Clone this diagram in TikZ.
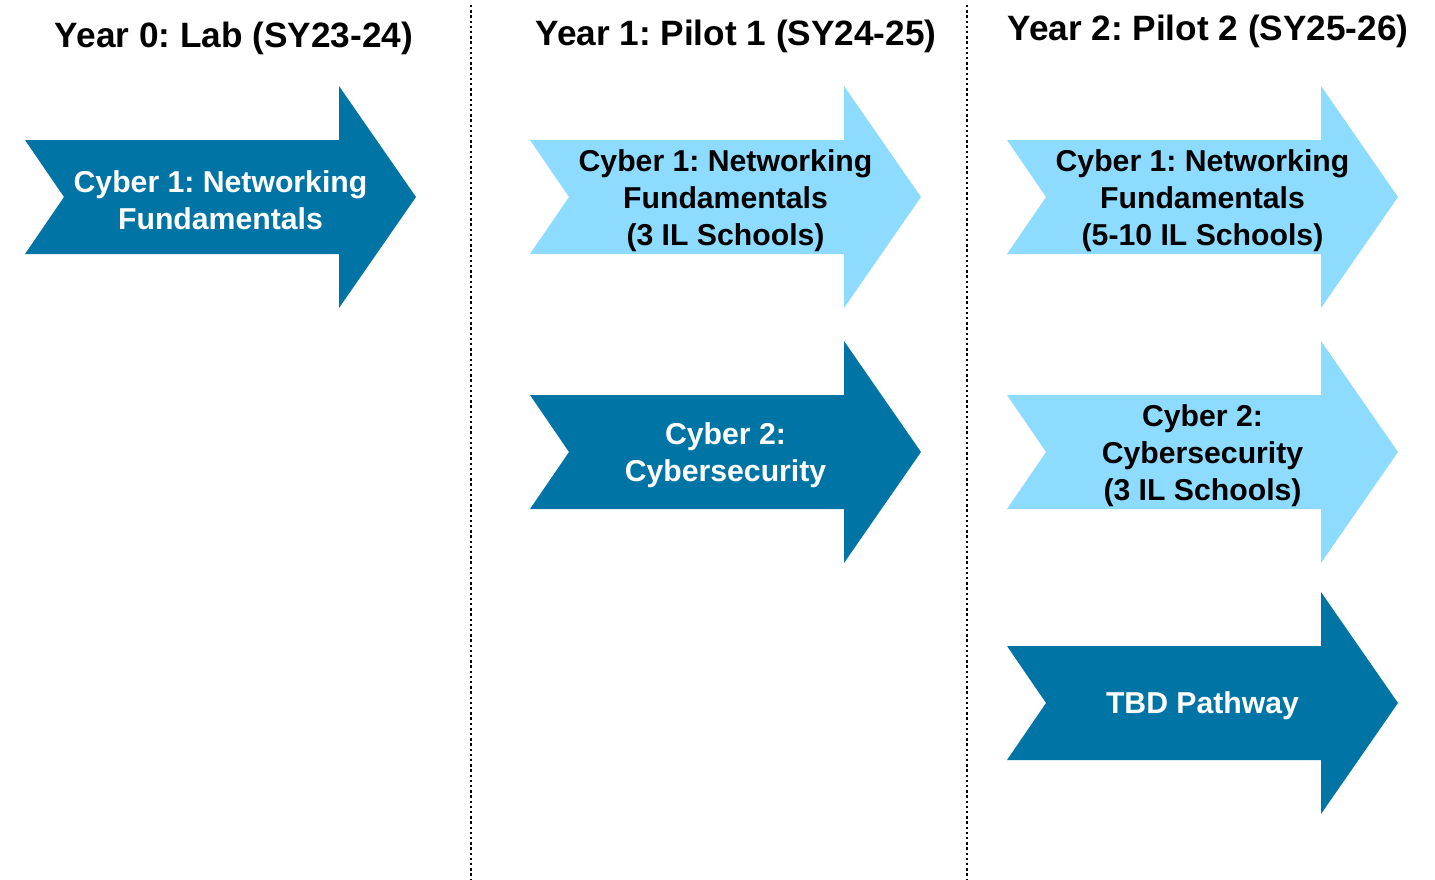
\documentclass[tikz,border=0pt]{standalone}
\usepackage{fontspec}
\setmainfont{Liberation Sans}
\frenchspacing
\definecolor{darkarr}{HTML}{0174A6}
\definecolor{lightarr}{HTML}{8DDCFF}
\newcommand\chevron[3]{% left x, center y, colour
  \fill[#3] (#1,#2-57) -- (#1+314,#2-57) -- (#1+314,#2-111) -- (#1+391,#2)
    -- (#1+314,#2+111) -- (#1+314,#2+57) -- (#1,#2+57) -- (#1+39,#2) -- cycle;}
\begin{document}
\begin{tikzpicture}[x=0.5pt,y=-0.5pt,
  header/.style={font=\fontsize{17.6}{21}\selectfont\bfseries, inner sep=0pt},
  arrtext/.style={font=\fontsize{15.1}{18.5}\selectfont\bfseries, align=center, inner sep=0pt},
  ondark/.style={arrtext, text=white},
  onlight/.style={arrtext, text=black},
  divider/.style={line width=1.15pt, dash pattern=on 1.15pt off 1.45pt}]
\useasboundingbox (0,0) rectangle (1435,879);
% dividers
\coordinate (d1t) at (471,5);  \coordinate (d1b) at (471,879);
\coordinate (d2t) at (967,5);  \coordinate (d2b) at (967,879);
\draw[divider] (d1t) -- (d1b);
\draw[divider] (d2t) -- (d2b);
% headers
\node[header] (h0) at (234,38) {Year 0: Lab (SY23-24)};
\node[header] (h1) at (736,36) {Year 1: Pilot 1 (SY24-25)};
\node[header] (h2) at (1208,31) {Year 2: Pilot 2 (SY25-26)};
% arrows
\chevron{25}{197}{darkarr}
\node[ondark] (a0) at (220.5,200) {Cyber 1: Networking\\Fundamentals};
\chevron{530}{197}{lightarr}
\node[onlight] (a11) at (725.5,201) {Cyber 1: Networking\\Fundamentals\\(3 IL Schools)};
\chevron{530}{452}{darkarr}
\node[ondark] (a12) at (725.5,455) {Cyber 2:\\Cybersecurity};
\chevron{1007}{197}{lightarr}
\node[onlight] (a21) at (1202.5,201) {Cyber 1: Networking\\Fundamentals\\(5-10 IL Schools)};
\chevron{1007}{452}{lightarr}
\node[onlight] (a22) at (1202.5,456) {Cyber 2:\\Cybersecurity\\(3 IL Schools)};
\chevron{1007}{703}{darkarr}
\node[ondark] (a23) at (1202.5,706) {TBD Pathway};
\end{tikzpicture}
\end{document}
